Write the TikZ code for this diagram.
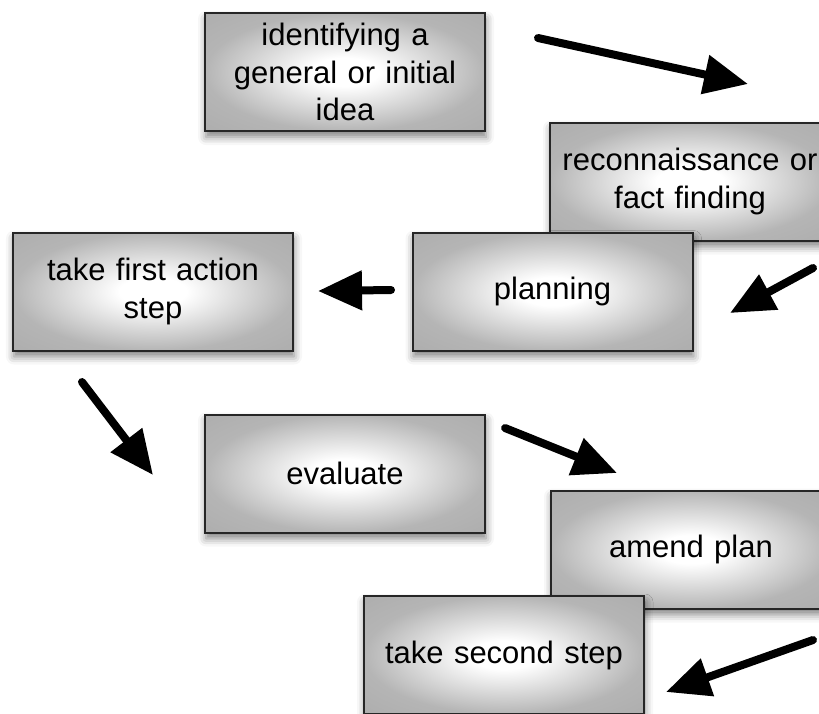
\documentclass[tikz,border=0pt]{standalone}
\usepackage{fontspec}
\setmainfont{Liberation Sans}
\usetikzlibrary{arrows.meta,shadows.blur}
\pgfdeclareradialshading{stageglow}{\pgfpoint{0bp}{0bp}}{color(0bp)=(white); color(6bp)=(white); color(25bp)=(black!29); color(50bp)=(black!36)}
\tikzset{
  stage/.style={rectangle, draw=black!85, line width=1pt, shading=stageglow,
    minimum width=140pt, minimum height=59pt, align=center, text width=132pt,
    font=\fontsize{15.5}{18.75}\selectfont,
    blur shadow={shadow xshift=0.5pt, shadow yshift=-3pt, shadow blur radius=4pt, shadow opacity=50}},
  flow/.style={line width=4pt, line cap=round, -{Triangle[length=22pt,width=19pt]}}
}
\begin{document}
\begin{tikzpicture}[x=0.5pt,y=-0.5pt]
    \useasboundingbox (0,0) rectangle (819,713);
    \node[stage] (idea) at (345,72) {identifying a\\general or initial\\idea};
    \node[stage] (recon) at (690,181.5) {reconnaissance or\\fact finding};
    \node[stage] (plan) at (552.5,291.5) {planning};
    \node[stage] (first) at (153,291.5) {take first action\\step};
    \node[stage] (eval) at (345,473.5) {evaluate};
    \node[stage] (amend) at (691,549.5) {amend plan};
    \node[stage] (second) at (504,655) {take second step};
    %arrows between the stages
    \def\arrs{538/38/748/84, 813/268/730/313, 391/290/318/291, 82/382/153/475, 505/428/617/473, 813/640/666/692}
    \foreach \xa/\ya/\xb/\yb [count=\i from 1] in \arrs {
      \coordinate (s\i) at (\xa,\ya); \coordinate (t\i) at (\xb,\yb);
      \draw[flow] (s\i) -- (t\i);}
\end{tikzpicture}
\end{document}
